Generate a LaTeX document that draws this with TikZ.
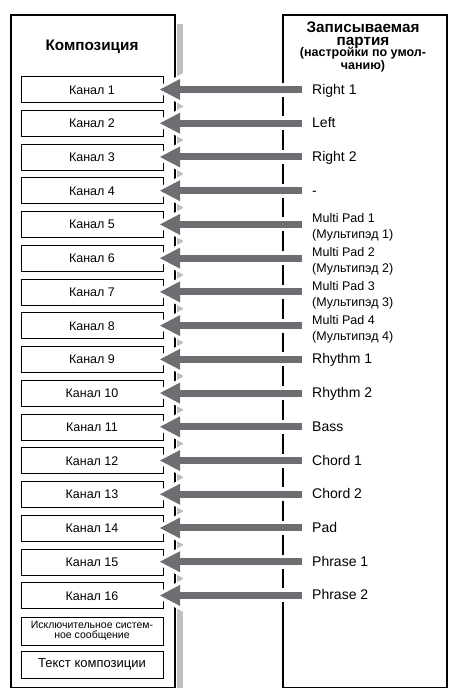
\documentclass[tikz,border=0pt]{standalone}
\usepackage{fontspec}
\setmainfont{Liberation Sans}
\usetikzlibrary{arrows.meta}
\definecolor{arrowgray}{HTML}{6D6E71}
\definecolor{stripgray}{HTML}{BCBEC0}
\tikzset{
  outerbox/.style={draw, line width=1.8pt, anchor=north west, inner sep=0pt},
  chbox/.style={draw, line width=1pt, minimum width=142pt, minimum height=26pt, inner sep=0pt, font=\fontsize{12.5}{14}\selectfont},
  lab/.style={anchor=base west, inner sep=0pt, font=\fontsize{14}{16}\selectfont},
  labsmall/.style={anchor=base west, inner sep=0pt, align=left, font=\fontsize{12.5}{16}\selectfont},
  hdr/.style={anchor=base, inner sep=0pt, align=center, font=\fontsize{15.3}{12.8}\bfseries},
  hdrsmall/.style={anchor=base, inner sep=0pt, align=center, font=\fontsize{12.5}{11}\bfseries},
  halo/.style={draw=white, line width=14pt, shorten >=-7.5pt,
      -{Triangle[length=31pt,width=33pt,line width=0pt]}},
  bigarrow/.style={draw=arrowgray, line width=7pt,
    -{Triangle[length=20pt,width=21pt,line width=0pt]}}
}
\begin{document}
\begin{tikzpicture}[x=1pt,y=-1pt]
\useasboundingbox (0,0) rectangle (448,688);
% shadow strip
\fill[stripgray] (177,24) rectangle (183,688);
% outer boxes
\node[outerbox, minimum width=164pt, minimum height=673pt] (comp) at (10,14) {};
\node[outerbox, minimum width=164pt, minimum height=673pt] (rec) at (282,14) {};
% headers
\node[hdr] (hcomp) at (92,50) {Композиция};
\node[hdr] (hr1) at (363,45.5) {Записываемая\\партия};
\node[hdrsmall] (hr3) at (363,69.5) {(настройки по умол-\\чанию)};
% channel boxes
\foreach \i in {1,...,16}{
  \pgfmathsetmacro{\yy}{89.5+(\i-1)*33.73}
  \node[chbox] (c\i) at (92,\yy+0.3) {Канал \i};
  \coordinate (s\i) at (302,\yy);
  \coordinate (t\i) at (160,\yy);
}
\node[chbox, minimum height=28pt, align=center, font=\fontsize{10.5}{10.5}\selectfont] (sysex) at (92,631) {Исключительное систем-\\ное сообщение};
\node[chbox, minimum height=27pt, font=\fontsize{13}{15}\selectfont] (lyr) at (92,664.5) {Текст композиции};
% arrow halos, then arrows
\foreach \i in {1,...,16}{
  \draw[halo] (s\i) -- (t\i);
}
\foreach \i in {1,...,16}{
  \draw[bigarrow] (s\i) -- (t\i);
}
% labels
\foreach \i/\t in {1/Right 1,2/Left,3/Right 2,4/-,9/Rhythm 1,10/Rhythm 2,11/Bass,12/Chord 1,13/Chord 2,14/Pad,15/Phrase 1,16/Phrase 2}{
  \node[lab] (l\i) at ([yshift=-4.5pt]s\i -| 312,0) {\t};
}
\foreach \i in {5,...,8}{
  \pgfmathtruncatemacro{\n}{\i-4}
  \node[labsmall] (l\i) at ([yshift=-14.5pt]s\i -| 312,0) {Multi Pad \n\\(Мультипэд \n)};
}
\end{tikzpicture}
\end{document}
